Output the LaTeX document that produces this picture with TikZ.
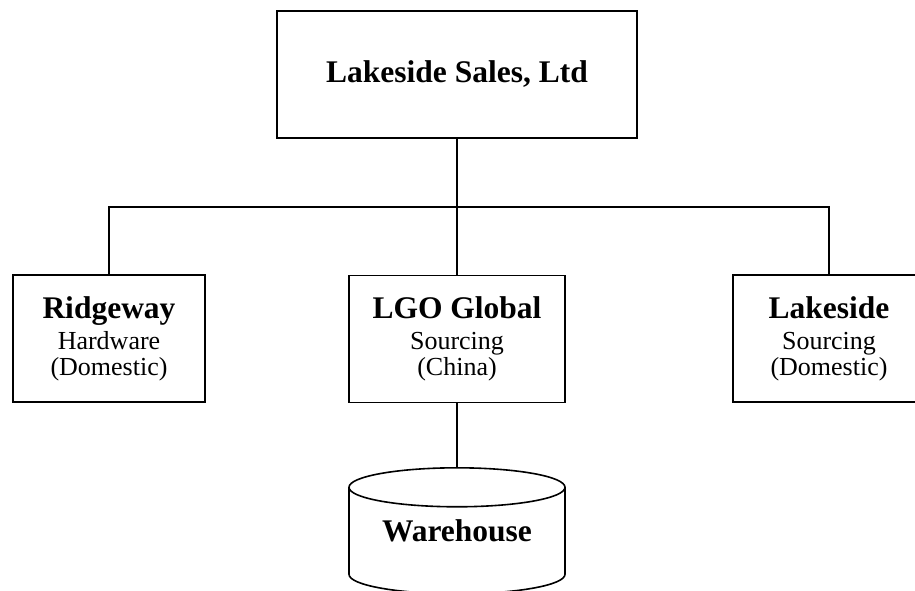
\documentclass[tikz,border=0pt]{standalone}
\usepackage{fontspec}
\setmainfont{Liberation Serif}
\usetikzlibrary{shapes.geometric}

\newcommand{\headtext}{\fontsize{31.5}{31}\selectfont\bfseries}
\newcommand{\subtext}{\fontsize{26}{26}\selectfont\mdseries}

\begin{document}
\begin{tikzpicture}[x=1pt,y=-1pt,line width=1.6pt,
    orgbox/.style={draw, minimum width=192pt, minimum height=127pt, align=center, inner sep=0pt, font=\subtext},
    store/.style={draw, cylinder, shape border rotate=90, aspect=0.26, minimum width=216pt, minimum height=126pt, inner sep=0pt, text depth=20pt, font=\headtext}]
      \clip (0,0) rectangle (915,590);
      \node[orgbox, minimum width=360pt, font=\headtext] (lakeside) at (457,74.5) {Lakeside Sales, Ltd};
      \node[orgbox] (ridgeway) at (109,338.5) {{\headtext Ridgeway}\\[5pt] Hardware\\ (Domestic)};
      \node[orgbox, minimum width=216pt] (lgo) at (457,339) {{\headtext LGO Global}\\[5pt] Sourcing\\ (China)};
      \node[orgbox] (lsrc) at (829,338.5) {{\headtext Lakeside}\\[5pt] Sourcing\\ (Domestic)};
      \node[store, anchor=north] (warehouse) at (457,467) {Warehouse};
      \coordinate (bus) at (457,207);
      \draw (ridgeway.north) |- (bus) -| (lsrc.north);
      \draw (lakeside.south) -- (lgo.north);
      \draw (lgo.south) -- (warehouse.north);
\end{tikzpicture}
\end{document}
